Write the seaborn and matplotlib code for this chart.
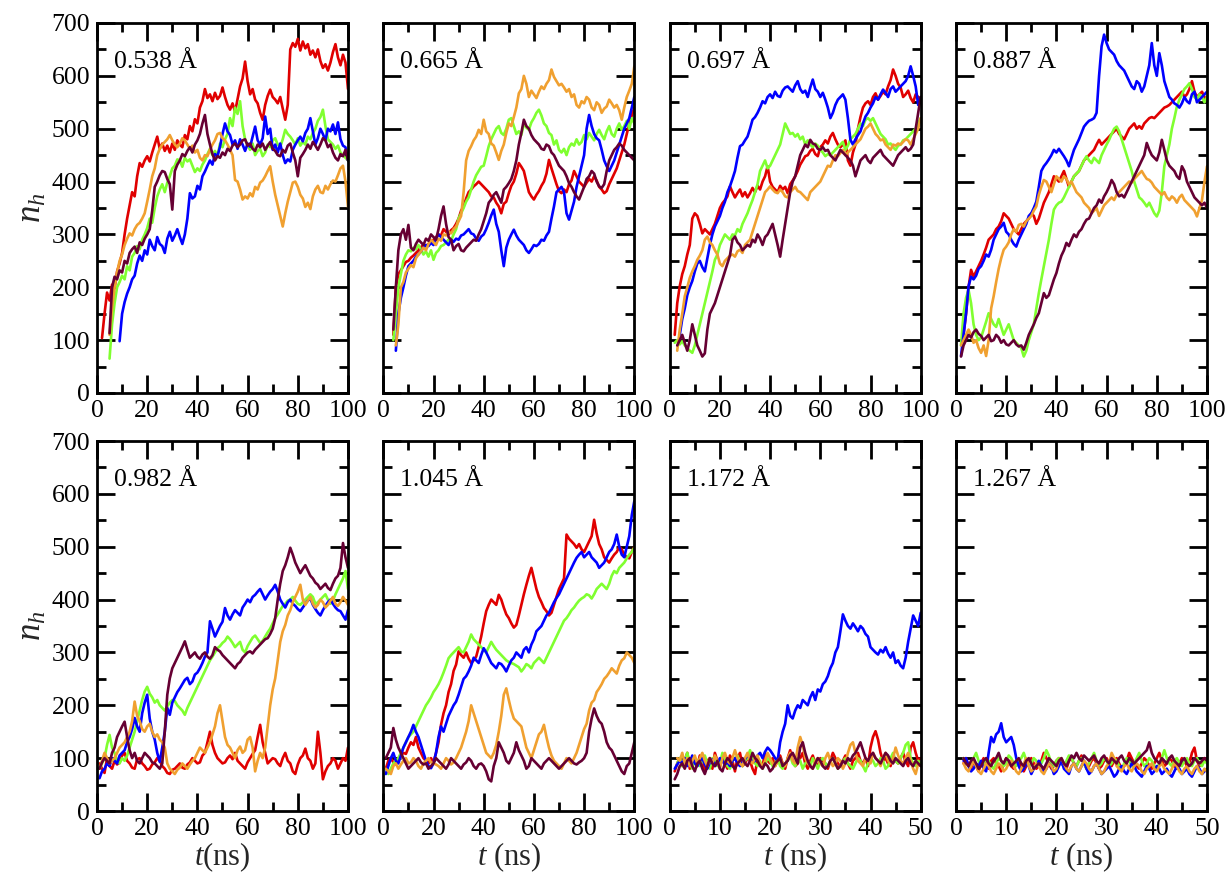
import numpy as np
import pandas as pd
import matplotlib
matplotlib.use("Agg")
import matplotlib.pyplot as plt
import seaborn as sns
from matplotlib.ticker import MultipleLocator

# ---------------- data ----------------
panel_labels = ["0.538 Å", "0.665 Å", "0.697 Å", "0.887 Å",
                "0.982 Å", "1.045 Å", "1.172 Å", "1.267 Å"]
runs = ["red", "green", "blue", "orange", "maroon"]
run_colors = ["#e00000", "#80ff30", "#0000ff", "#f0a030", "#660033"]
panel_tmax = [100, 100, 100, 100, 100, 100, 50, 50]
panel_step = [1, 1, 1, 1, 1, 1, 0.5, 0.5]

# start times (ns) of each trace: [red, green, blue, orange, maroon]
starts_p1 = [2, 5, 9, 5, 5]
starts_p2 = [4, 4, 5, 5, 4]
starts_p3 = [2, 2, 4, 3, 3]
starts_p4 = [3, 2, 2, 2, 2]
starts_p5 = [1, 1, 1, 1, 1]
starts_p6 = [1, 2, 1, 1, 1]
starts_p7 = [1, 1.5, 1, 1.5, 1]
starts_p8 = [1.5, 1.5, 1.5, 1.5, 1.5]

# ---- panel 1 : 0.538 A ----
p1_red = [104, 150, 190, 175, 205, 198, 230, 245, 265, 300,
          330, 355, 380, 372, 410, 435, 428, 440, 448, 438,
          455, 470, 485, 462, 472, 458, 468, 455, 472, 460,
          478, 470, 465, 488, 480, 505, 495, 518, 510, 540,
          552, 575, 558, 565, 552, 568, 556, 562, 578, 560,
          545, 536, 548, 532, 556, 580, 595, 627, 590, 565,
          575, 555, 548, 530, 517, 545, 562, 574, 560, 555,
          548, 560, 538, 517, 545, 650, 662, 655, 670, 648,
          665, 652, 660, 640, 648, 635, 650, 628, 615, 622,
          610, 625, 645, 660, 635, 620, 640, 625, 575]
p1_green = [65, 130, 170, 200, 210, 222, 215, 240, 232, 258,
            265, 278, 272, 290, 300, 312, 330, 322, 350, 372,
            385, 395, 380, 398, 410, 425, 430, 442, 440, 428,
            445, 438, 442, 430, 418, 425, 420, 432, 440, 452,
            462, 450, 458, 448, 472, 465, 480, 490, 520, 505,
            540, 528, 552, 505, 480, 468, 460, 472, 450, 458,
            462, 448, 455, 470, 465, 478, 482, 470, 465, 480,
            498, 490, 485, 478, 470, 482, 468, 475, 470, 485,
            480, 492, 500, 515, 522, 536, 505, 480, 475, 470,
            462, 468, 455, 450, 445, 440]
p1_blue = [98, 150, 172, 188, 200, 215, 222, 245, 260, 250,
           270, 262, 290, 278, 270, 295, 282, 278, 265, 292,
           305, 288, 298, 310, 295, 282, 300, 330, 378, 368,
           372, 392, 385, 410, 419, 430, 440, 432, 452, 448,
           466, 490, 510, 495, 488, 470, 478, 462, 480, 470,
           458, 472, 466, 485, 504, 478, 470, 482, 523, 490,
           500, 460, 470, 455, 472, 450, 435, 442, 438, 460,
           470, 478, 485, 476, 492, 500, 520, 495, 470, 482,
           500, 490, 478, 500, 495, 508, 490, 512, 480, 468,
           465, 440]
p1_orange = [110, 160, 200, 228, 250, 262, 280, 292, 302, 298,
             310, 318, 322, 330, 340, 362, 385, 410, 425, 450,
             462, 470, 475, 480, 488, 478, 470, 465, 472, 482,
             478, 470, 462, 468, 455, 460, 445, 440, 450, 448,
             460, 470, 478, 490, 492, 482, 478, 470, 460, 450,
             403, 400, 385, 366, 372, 368, 378, 372, 390, 385,
             398, 402, 410, 420, 429, 400, 375, 355, 335, 315,
             340, 362, 380, 398, 400, 390, 375, 368, 352, 360,
             348, 372, 385, 392, 380, 378, 392, 385, 395, 402,
             400, 412, 425, 430, 400, 352]
p1_maroon = [113, 200, 220, 215, 232, 228, 250, 245, 265, 272,
             277, 265, 285, 280, 292, 300, 310, 345, 390, 400,
             412, 420, 418, 405, 395, 347, 420, 432, 440, 452,
             448, 458, 465, 455, 470, 478, 490, 510, 526, 490,
             470, 452, 440, 448, 445, 455, 450, 462, 458, 468,
             472, 465, 470, 478, 480, 468, 472, 462, 458, 470,
             465, 472, 460, 468, 475, 462, 458, 450, 448, 460,
             455, 468, 472, 455, 440, 410, 445, 452, 460, 470,
             462, 475, 468, 460, 470, 482, 478, 465, 470, 455,
             445, 440, 452, 448, 460, 440]

# ---- panel 2 : 0.665 A ----
p2_red = [110, 200, 225, 232, 240, 248, 250, 256, 260, 265,
          270, 276, 280, 278, 282, 285, 290, 295, 300, 298,
          310, 305, 300, 308, 312, 320, 330, 345, 353, 368,
          380, 385, 391, 395, 400, 395, 390, 385, 380, 372,
          370, 360, 353, 340, 358, 362, 378, 392, 400, 415,
          435, 428, 420, 400, 380, 372, 366, 375, 382, 392,
          400, 415, 441, 425, 410, 395, 382, 378, 385, 380,
          395, 402, 420, 410, 400, 395, 390, 398, 405, 400,
          410, 402, 390, 385, 378, 382, 395, 405, 415, 425,
          440, 455, 470, 490, 510, 525, 540]
p2_green = [100, 150, 200, 225, 250, 262, 270, 268, 275, 272,
            280, 272, 262, 268, 258, 270, 252, 265, 270, 278,
            280, 285, 290, 288, 300, 310, 330, 340, 350, 362,
            370, 385, 400, 412, 420, 428, 430, 448, 467, 480,
            490, 500, 505, 492, 488, 500, 517, 520, 505, 490,
            495, 488, 510, 502, 498, 512, 520, 530, 536, 525,
            510, 505, 492, 488, 470, 478, 460, 455, 462, 450,
            465, 472, 468, 480, 470, 475, 488, 480, 492, 485,
            478, 490, 498, 488, 480, 495, 505, 490, 485, 500,
            510, 498, 505, 515, 500, 520, 510]
p2_blue = [80, 150, 180, 200, 222, 240, 245, 250, 258, 262,
           268, 275, 280, 278, 284, 280, 292, 300, 295, 290,
           285, 280, 290, 286, 292, 290, 298, 300, 305, 310,
           302, 300, 292, 288, 296, 300, 310, 322, 336, 347,
           320, 305, 270, 240, 275, 290, 300, 309, 298, 290,
           285, 280, 270, 265, 272, 280, 278, 282, 290, 288,
           298, 305, 330, 353, 380, 385, 390, 380, 340, 328,
           345, 362, 390, 410, 430, 450, 500, 526, 505, 490,
           482, 478, 460, 440, 429, 420, 430, 440, 455, 470,
           485, 500, 510, 520, 540, 560]
p2_orange = [90, 130, 200, 210, 228, 235, 242, 238, 255, 262,
             268, 275, 270, 282, 290, 285, 280, 292, 288, 300,
             298, 305, 302, 310, 315, 325, 335, 380, 440, 458,
             467, 478, 485, 498, 490, 517, 495, 490, 472, 468,
             455, 441, 458, 470, 492, 510, 505, 522, 540, 567,
             575, 600, 585, 560, 572, 565, 558, 570, 580, 575,
             585, 592, 612, 598, 590, 582, 585, 578, 570, 575,
             560, 565, 545, 540, 552, 548, 560, 555, 540, 535,
             550, 545, 530, 538, 542, 555, 548, 540, 545, 535,
             517, 540, 560, 572, 585, 618]
p2_maroon = [120, 200, 270, 300, 310, 290, 318, 275, 270, 282,
             290, 285, 280, 292, 288, 300, 295, 290, 310, 335,
             353, 320, 295, 290, 270, 278, 282, 270, 268, 275,
             280, 285, 290, 288, 300, 310, 325, 340, 360, 366,
             375, 380, 370, 360, 385, 390, 397, 405, 420, 440,
             470, 492, 517, 505, 500, 488, 480, 475, 470, 462,
             460, 470, 467, 455, 450, 440, 430, 425, 420, 410,
             397, 390, 380, 372, 366, 378, 390, 405, 410, 420,
             415, 400, 391, 388, 395, 420, 440, 450, 460, 465,
             472, 468, 460, 455, 450, 445, 440]

# ---- panel 3 : 0.697 A ----
p3_red = [110, 170, 202, 225, 240, 262, 280, 330, 340, 335,
          320, 302, 310, 305, 300, 310, 320, 335, 350, 359,
          365, 372, 391, 380, 370, 378, 385, 372, 380, 370,
          378, 388, 380, 392, 385, 400, 410, 429, 400, 390,
          385, 380, 392, 385, 390, 378, 395, 402, 410, 420,
          432, 440, 448, 450, 458, 462, 452, 448, 465, 470,
          478, 472, 485, 492, 480, 470, 465, 470, 478, 440,
          430, 455, 470, 500, 522, 540, 548, 552, 545, 560,
          567, 555, 562, 570, 565, 580, 592, 612, 600, 585,
          578, 560, 565, 572, 558, 550, 565, 560, 555]
p3_green = [95, 100, 92, 98, 90, 85, 80, 76, 90, 110,
            130, 150, 170, 190, 210, 230, 252, 262, 280, 290,
            300, 295, 290, 300, 298, 310, 305, 320, 330, 340,
            353, 365, 380, 395, 420, 430, 440, 425, 430, 440,
            450, 460, 470, 490, 510, 500, 490, 492, 485, 490,
            480, 485, 470, 478, 470, 465, 472, 468, 460, 455,
            448, 452, 450, 455, 460, 465, 470, 475, 460, 468,
            480, 485, 490, 500, 510, 505, 517, 520, 515, 520,
            510, 500, 490, 485, 480, 470, 472, 465, 460, 468,
            470, 478, 480, 485, 490, 495, 500, 510, 520]
p3_blue = [110, 140, 160, 185, 200, 212, 230, 245, 250, 238,
           230, 255, 280, 300, 315, 325, 335, 350, 362, 380,
           391, 405, 420, 445, 467, 470, 478, 485, 500, 517,
           522, 530, 540, 552, 548, 560, 565, 558, 570, 562,
           560, 572, 578, 580, 575, 570, 582, 590, 575, 568,
           572, 560, 578, 593, 575, 570, 560, 568, 555, 540,
           520, 530, 545, 555, 560, 565, 555, 520, 479, 470,
           480, 488, 495, 510, 523, 530, 540, 548, 560, 555,
           565, 574, 568, 560, 575, 580, 570, 575, 580, 585,
           590, 600, 618, 600, 580, 545, 560]
p3_orange = [80, 120, 150, 183, 200, 218, 230, 240, 252, 260,
             270, 290, 296, 285, 280, 270, 262, 245, 240, 250,
             255, 260, 262, 258, 268, 271, 265, 280, 285, 290,
             305, 320, 335, 350, 365, 380, 385, 391, 385, 380,
             378, 385, 380, 372, 370, 380, 385, 390, 382, 380,
             375, 370, 365, 380, 385, 390, 395, 400, 410, 420,
             430, 428, 440, 450, 448, 454, 460, 450, 455, 460,
             465, 470, 475, 480, 490, 500, 504, 510, 500, 490,
             485, 478, 480, 470, 465, 460, 470, 468, 472, 470,
             475, 480, 478, 470, 480, 490, 500, 520]
p3_maroon = [90, 100, 110, 95, 80, 100, 130, 110, 90, 80,
             69, 75, 120, 150, 160, 170, 185, 200, 215, 230,
             245, 260, 290, 296, 285, 280, 270, 275, 280, 277,
             290, 285, 300, 292, 280, 295, 300, 310, 320, 300,
             280, 258, 290, 320, 350, 380, 400, 410, 430, 450,
             460, 470, 465, 479, 472, 470, 462, 460, 465, 458,
             460, 450, 445, 440, 450, 460, 455, 450, 445, 440,
             430, 410, 425, 440, 445, 450, 440, 435, 445, 450,
             455, 460, 450, 445, 440, 435, 430, 440, 450, 455,
             460, 465, 458, 462, 470, 500, 530, 560]

# ---- panel 4 : 0.887 A ----
p4_red = [110, 150, 200, 233, 220, 230, 240, 250, 262, 275,
          290, 295, 300, 310, 315, 325, 340, 335, 330, 320,
          310, 305, 300, 310, 320, 325, 330, 340, 335, 320,
          330, 345, 360, 370, 380, 395, 410, 405, 400, 410,
          420, 405, 390, 400, 410, 415, 420, 430, 440, 445,
          450, 455, 460, 470, 479, 470, 475, 480, 485, 490,
          495, 500, 490, 485, 480, 490, 500, 505, 510, 500,
          505, 500, 510, 515, 520, 522, 520, 525, 530, 535,
          540, 542, 545, 550, 555, 560, 565, 570, 560, 565,
          575, 590, 570, 560, 565, 570, 560, 555]
p4_green = [90, 150, 180, 195, 170, 130, 110, 100, 105, 120,
            135, 151, 140, 130, 125, 140, 125, 110, 120, 130,
            115, 100, 95, 90, 85, 69, 80, 100, 115, 130,
            160, 189, 215, 240, 265, 290, 320, 347, 355, 360,
            362, 370, 380, 390, 400, 410, 415, 420, 430, 440,
            448, 440, 435, 445, 440, 435, 450, 460, 470, 479,
            490, 500, 504, 495, 480, 465, 450, 435, 420, 400,
            385, 370, 366, 360, 353, 360, 350, 340, 334, 345,
            380, 429, 450, 470, 500, 520, 542, 555, 565, 575,
            580, 586, 575, 560, 555, 565, 560, 550, 560]
p4_blue = [70, 110, 150, 202, 220, 215, 222, 235, 240, 250,
           262, 258, 271, 290, 300, 310, 315, 322, 305, 300,
           290, 282, 277, 290, 300, 310, 320, 335, 340, 350,
           362, 390, 420, 429, 435, 442, 450, 460, 455, 462,
           455, 448, 440, 429, 445, 460, 470, 480, 492, 504,
           510, 515, 517, 520, 530, 600, 656, 678, 662, 650,
           645, 640, 628, 620, 615, 610, 600, 590, 580, 575,
           590, 585, 570, 580, 600, 620, 662, 620, 600, 643,
           620, 590, 575, 560, 555, 548, 545, 540, 548, 560,
           552, 548, 565, 570, 550, 555, 560, 565, 570]
p4_orange = [90, 100, 110, 120, 110, 95, 100, 85, 76, 90,
             70, 100, 160, 183, 210, 235, 255, 271, 277, 285,
             300, 310, 305, 318, 320, 315, 325, 330, 335, 345,
             353, 375, 390, 403, 400, 390, 380, 395, 410, 405,
             400, 410, 405, 395, 400, 390, 380, 375, 370, 360,
             355, 350, 340, 345, 350, 335, 345, 355, 360, 365,
             370, 365, 375, 380, 385, 390, 395, 400, 398, 405,
             410, 415, 420, 412, 405, 403, 398, 390, 385, 380,
             375, 380, 370, 365, 372, 368, 360, 370, 375, 365,
             360, 355, 350, 345, 334, 350, 365, 400, 429]
p4_maroon = [69, 90, 100, 110, 105, 115, 120, 112, 108, 100,
             105, 110, 98, 100, 110, 105, 95, 100, 92, 90,
             95, 100, 92, 88, 90, 82, 95, 110, 120, 130,
             142, 151, 170, 189, 180, 185, 200, 215, 227, 245,
             260, 270, 284, 278, 290, 300, 295, 305, 310, 320,
             328, 330, 340, 350, 355, 366, 360, 372, 380, 390,
             403, 395, 380, 372, 375, 370, 380, 390, 400, 410,
             420, 430, 440, 450, 473, 460, 450, 445, 440, 455,
             479, 460, 440, 430, 425, 420, 410, 405, 429, 420,
             400, 390, 380, 370, 365, 360, 355, 360, 350]

# ---- panel 5 : 0.982 A ----
p5_red = [90, 80, 72, 100, 85, 80, 95, 88, 92, 105,
          110, 95, 90, 82, 80, 98, 100, 90, 85, 78,
          80, 88, 92, 100, 95, 85, 80, 72, 70, 78,
          80, 85, 90, 82, 80, 88, 92, 100, 95, 90,
          92, 105, 110, 130, 150, 125, 110, 100, 95, 90,
          92, 100, 105, 98, 110, 95, 90, 85, 80, 92,
          100, 108, 115, 140, 163, 130, 110, 90, 95, 100,
          98, 90, 85, 100, 110, 95, 90, 75, 70, 88,
          100, 105, 118, 100, 95, 80, 90, 150, 110, 60,
          75, 85, 90, 100, 95, 80, 90, 100, 95, 120]
p5_green = [80, 90, 100, 125, 144, 120, 110, 95, 90, 100,
            95, 105, 120, 135, 150, 170, 190, 210, 226, 235,
            222, 215, 205, 210, 200, 195, 190, 198, 205, 210,
            208, 200, 195, 190, 182, 195, 205, 215, 225, 235,
            245, 255, 265, 275, 285, 292, 300, 308, 312, 318,
            322, 330, 325, 318, 310, 315, 320, 305, 300, 312,
            320, 328, 332, 325, 318, 322, 330, 338, 345, 355,
            365, 372, 380, 388, 392, 398, 400, 405, 398, 392,
            390, 395, 400, 405, 410, 405, 392, 395, 400, 405,
            410, 400, 392, 398, 410, 420, 430, 440, 454, 420]
p5_blue = [62, 75, 80, 90, 85, 100, 95, 90, 105, 110,
           115, 130, 140, 155, 176, 160, 150, 185, 205, 220,
           175, 150, 135, 110, 93, 120, 150, 195, 182, 205,
           215, 225, 232, 240, 248, 252, 240, 245, 258, 262,
           270, 280, 292, 300, 359, 345, 330, 340, 350, 358,
           384, 370, 362, 372, 380, 375, 370, 385, 392, 400,
           395, 405, 409, 415, 420, 410, 400, 408, 415, 420,
           428, 415, 400, 392, 385, 395, 400, 392, 388, 382,
           378, 385, 392, 398, 402, 390, 382, 375, 370, 380,
           388, 395, 400, 392, 385, 380, 378, 370, 362, 380]
p5_orange = [80, 95, 110, 100, 90, 95, 100, 110, 120, 125,
             130, 140, 150, 170, 207, 180, 170, 155, 150, 160,
             165, 150, 140, 145, 135, 130, 120, 90, 80, 75,
             70, 78, 82, 90, 85, 80, 88, 95, 100, 110,
             120, 115, 110, 120, 130, 145, 160, 185, 200, 170,
             140, 125, 120, 110, 100, 115, 122, 110, 115, 135,
             140, 120, 75, 95, 110, 100, 120, 160, 200, 230,
             251, 285, 320, 340, 352, 370, 380, 395, 405, 415,
             428, 400, 390, 398, 405, 392, 385, 390, 400, 395,
             385, 390, 398, 405, 392, 388, 395, 405, 398, 390]
p5_maroon = [80, 92, 100, 95, 90, 110, 120, 140, 150, 160,
             169, 140, 115, 100, 110, 95, 90, 100, 110, 105,
             100, 92, 90, 85, 80, 90, 150, 220, 251, 270,
             280, 290, 300, 310, 321, 305, 290, 295, 300, 292,
             288, 296, 300, 292, 288, 295, 310, 305, 302, 295,
             290, 285, 280, 275, 270, 278, 282, 290, 295, 300,
             302, 298, 305, 310, 315, 320, 325, 327, 335, 345,
             365, 400, 430, 454, 465, 480, 498, 485, 470, 460,
             450, 458, 465, 455, 445, 440, 432, 428, 420, 425,
             430, 422, 418, 430, 440, 445, 460, 507, 480, 460]

# ---- panel 6 : 1.045 A ----
p6_red = [80, 95, 100, 92, 88, 100, 105, 110, 108, 120,
          130, 125, 140, 120, 110, 100, 95, 90, 100, 92,
          110, 130, 163, 185, 200, 225, 240, 265, 277, 302,
          295, 290, 300, 288, 280, 285, 292, 310, 330, 355,
          378, 390, 400, 395, 390, 409, 400, 385, 372, 365,
          355, 347, 352, 370, 390, 410, 428, 445, 460, 440,
          420, 405, 395, 384, 378, 370, 375, 390, 405, 420,
          430, 440, 523, 515, 510, 505, 498, 505, 495, 490,
          500, 510, 520, 551, 525, 505, 495, 480, 475, 470,
          478, 485, 490, 500, 495, 485, 480, 478, 490, 500]
p6_green = [70, 80, 90, 95, 100, 110, 120, 130, 140, 145,
            150, 160, 170, 180, 190, 200, 207, 215, 225, 232,
            240, 250, 262, 275, 289, 295, 300, 305, 310, 302,
            300, 310, 320, 334, 325, 320, 315, 310, 305, 300,
            310, 320, 312, 305, 300, 295, 290, 285, 282, 280,
            278, 275, 272, 264, 270, 278, 275, 270, 280, 285,
            290, 285, 280, 290, 300, 310, 320, 330, 340, 350,
            360, 365, 372, 380, 385, 392, 398, 402, 405, 410,
            408, 402, 410, 420, 425, 430, 425, 420, 430, 445,
            454, 450, 460, 465, 470, 478, 485, 490, 498]
p6_blue = [70, 85, 100, 110, 95, 90, 105, 120, 130, 140,
           150, 163, 150, 140, 125, 110, 95, 85, 81, 90,
           110, 140, 160, 150, 165, 180, 190, 200, 207, 220,
           235, 250, 255, 264, 275, 290, 285, 280, 295, 308,
           300, 290, 280, 275, 270, 280, 278, 272, 264, 275,
           285, 290, 300, 295, 290, 305, 310, 300, 315, 325,
           340, 345, 350, 360, 370, 375, 385, 395, 403, 410,
           420, 430, 440, 450, 460, 470, 479, 485, 490, 480,
           485, 490, 480, 475, 470, 460, 465, 470, 480, 490,
           495, 505, 523, 500, 485, 480, 500, 520, 560, 586]
p6_orange = [80, 75, 70, 85, 90, 80, 88, 95, 100, 90,
             92, 100, 95, 85, 80, 90, 95, 100, 92, 90,
             88, 85, 80, 90, 100, 95, 88, 92, 100, 110,
             120, 135, 150, 170, 200, 185, 170, 155, 140, 125,
             110, 105, 100, 110, 125, 150, 180, 220, 232, 210,
             190, 175, 170, 165, 160, 140, 120, 110, 100, 115,
             130, 145, 150, 163, 140, 120, 105, 95, 90, 85,
             80, 90, 100, 95, 90, 100, 110, 125, 140, 155,
             165, 190, 205, 210, 225, 232, 240, 250, 255, 262,
             270, 265, 260, 275, 285, 289, 300, 295, 290, 280]
p6_maroon = [100, 110, 120, 157, 135, 120, 110, 100, 90, 80,
             85, 90, 95, 100, 92, 88, 90, 80, 85, 90,
             100, 95, 90, 85, 80, 88, 100, 95, 90, 85,
             80, 88, 92, 100, 95, 85, 80, 88, 90, 85,
             75, 60, 56, 85, 100, 130, 120, 110, 95, 90,
             100, 110, 130, 115, 105, 95, 80, 85, 100, 95,
             90, 85, 80, 90, 95, 100, 95, 90, 85, 80,
             85, 90, 95, 100, 95, 90, 88, 92, 95, 100,
             110, 150, 175, 194, 180, 170, 165, 150, 130, 120,
             115, 105, 95, 85, 75, 70, 85, 90, 110, 130]

# ---- panel 7 : 1.172 A (0.5 ns sampling) ----
p7_red = [75, 90, 100, 85, 95, 110, 80, 90, 100, 85,
          105, 90, 75, 95, 100, 80, 110, 95, 85, 100,
          90, 80, 105, 95, 75, 100, 110, 85, 90, 100,
          95, 80, 70, 100, 90, 85, 110, 95, 90, 100,
          85, 95, 105, 90, 80, 100, 115, 95, 85, 90,
          100, 110, 90, 80, 95, 105, 90, 85, 100, 95,
          90, 80, 95, 110, 100, 90, 85, 95, 105, 90,
          80, 95, 100, 110, 95, 90, 100, 85, 120, 140,
          151, 135, 110, 95, 100, 90, 85, 105, 95, 90,
          100, 110, 95, 85, 120, 130, 110, 95, 100]
p7_green = [90, 100, 85, 95, 110, 90, 80, 100, 95, 85,
            95, 105, 90, 80, 100, 95, 85, 90, 110, 100,
            85, 80, 95, 100, 105, 90, 85, 95, 100, 115,
            100, 90, 85, 95, 80, 90, 100, 95, 85, 90,
            100, 85, 80, 90, 95, 105, 90, 85, 100, 95,
            80, 90, 95, 85, 100, 90, 80, 95, 100, 90,
            85, 95, 100, 90, 80, 85, 95, 100, 90, 85,
            80, 90, 100, 95, 85, 75, 90, 100, 95, 85,
            90, 100, 95, 80, 85, 100, 110, 95, 90, 100,
            110, 125, 130, 100, 90, 85, 95, 90]
p7_blue = [80, 88, 95, 90, 100, 85, 92, 105, 90, 85,
           95, 100, 88, 80, 92, 98, 85, 90, 100, 95,
           88, 92, 85, 95, 100, 90, 85, 92, 98, 105,
           100, 92, 95, 105, 110, 100, 112, 120, 115, 108,
           100, 95, 130, 150, 165, 200, 180, 175, 190, 200,
           195, 210, 205, 200, 215, 225, 210, 230, 226, 240,
           245, 255, 270, 280, 300, 310, 340, 372, 360, 350,
           345, 355, 348, 340, 350, 345, 335, 330, 310, 305,
           300, 296, 305, 300, 310, 298, 290, 300, 280, 285,
           275, 270, 290, 320, 345, 370, 360, 350, 375, 397]
p7_orange = [100, 95, 110, 90, 100, 85, 95, 105, 90, 100,
             110, 95, 85, 100, 90, 105, 95, 80, 100, 110,
             95, 90, 100, 115, 100, 90, 85, 100, 110, 95,
             90, 100, 105, 90, 85, 95, 110, 100, 90, 85,
             95, 100, 90, 85, 100, 110, 95, 90, 120, 140,
             125, 100, 90, 85, 80, 95, 100, 90, 85, 100,
             110, 95, 85, 90, 100, 95, 80, 90, 110, 125,
             130, 110, 95, 90, 85, 100, 95, 90, 110, 100,
             95, 85, 100, 110, 95, 90, 100, 120, 105, 95,
             90, 100, 110, 95, 80, 70, 90, 85]
p7_maroon = [60, 70, 85, 90, 80, 95, 100, 85, 75, 90,
             95, 80, 70, 85, 100, 90, 85, 95, 80, 75,
             90, 100, 95, 85, 80, 90, 95, 100, 90, 85,
             95, 110, 100, 95, 85, 80, 90, 85, 75, 80,
             90, 95, 100, 85, 90, 95, 105, 110, 100, 90,
             120, 130, 110, 95, 85, 80, 90, 100, 95, 85,
             80, 85, 95, 100, 90, 80, 85, 95, 90, 100,
             95, 105, 110, 120, 130, 115, 100, 95, 105, 110,
             100, 95, 90, 100, 110, 105, 95, 90, 100, 95,
             90, 85, 95, 100, 90, 85, 95, 90, 85]

# ---- panel 8 : 1.267 A (0.5 ns sampling) ----
p8_red = [90, 100, 85, 80, 95, 85, 75, 90, 100, 85,
          80, 95, 100, 90, 85, 75, 90, 100, 95, 85,
          80, 90, 95, 85, 75, 85, 95, 100, 90, 80,
          85, 95, 110, 100, 90, 80, 85, 95, 100, 90,
          85, 80, 95, 100, 90, 85, 95, 105, 90, 80,
          85, 95, 100, 90, 80, 85, 95, 100, 90, 85,
          95, 100, 90, 80, 85, 95, 110, 100, 90, 85,
          80, 90, 100, 95, 85, 80, 90, 100, 110, 95,
          85, 90, 100, 95, 85, 80, 90, 100, 95, 85,
          90, 110, 120, 95, 85, 90, 100, 95]
p8_green = [100, 95, 85, 90, 100, 110, 95, 85, 90, 100,
            95, 85, 80, 90, 100, 95, 85, 90, 105, 100,
            90, 85, 95, 100, 110, 95, 85, 90, 100, 95,
            85, 90, 100, 115, 105, 90, 85, 95, 100, 90,
            85, 95, 105, 100, 90, 85, 95, 100, 90, 80,
            90, 100, 110, 95, 85, 90, 100, 95, 85, 90,
            100, 95, 85, 80, 90, 100, 95, 85, 90, 100,
            110, 95, 85, 90, 100, 95, 85, 80, 90, 100,
            115, 100, 90, 85, 95, 100, 90, 85, 95, 100,
            90, 85, 95, 100, 90, 85, 95, 90]
p8_blue = [95, 100, 85, 75, 80, 90, 85, 95, 80, 75,
           110, 140, 130, 145, 150, 166, 140, 130, 135, 140,
           125, 100, 85, 75, 80, 90, 85, 70, 80, 85,
           95, 85, 75, 80, 90, 85, 70, 75, 85, 95,
           80, 75, 70, 85, 90, 80, 75, 85, 95, 80,
           70, 75, 85, 90, 80, 70, 75, 80, 85, 75,
           65, 70, 80, 85, 75, 70, 80, 90, 85, 75,
           70, 65, 75, 85, 80, 70, 75, 85, 80, 70,
           75, 80, 70, 65, 75, 85, 80, 70, 75, 80,
           70, 65, 75, 85, 80, 70, 75, 80]
p8_orange = [90, 80, 75, 85, 95, 85, 75, 70, 80, 90,
             85, 75, 70, 80, 90, 85, 75, 80, 90, 95,
             85, 75, 70, 80, 90, 100, 85, 75, 80, 90,
             85, 75, 70, 80, 90, 85, 75, 80, 95, 100,
             90, 80, 75, 85, 90, 80, 75, 85, 95, 90,
             80, 75, 85, 90, 80, 70, 75, 85, 90, 110,
             100, 85, 80, 75, 85, 90, 80, 75, 85, 90,
             85, 75, 70, 80, 85, 90, 80, 75, 85, 90,
             80, 75, 70, 80, 90, 85, 75, 70, 80, 85,
             75, 70, 80, 85, 75, 70, 80, 75]
p8_maroon = [100, 90, 85, 95, 100, 90, 80, 85, 95, 100,
             90, 85, 95, 100, 110, 95, 90, 100, 95, 85,
             90, 95, 100, 90, 85, 95, 100, 90, 80, 85,
             90, 85, 80, 90, 100, 95, 90, 85, 95, 100,
             90, 85, 95, 105, 100, 110, 100, 95, 105, 100,
             95, 100, 105, 95, 90, 100, 105, 95, 90, 100,
             95, 90, 100, 105, 95, 90, 100, 95, 90, 95,
             100, 105, 110, 115, 130, 110, 100, 95, 90, 100,
             95, 90, 100, 105, 95, 90, 85, 95, 100, 90,
             85, 90, 100, 95, 90, 95, 100, 95]

panels = [
    (starts_p1, [p1_red, p1_green, p1_blue, p1_orange, p1_maroon]),
    (starts_p2, [p2_red, p2_green, p2_blue, p2_orange, p2_maroon]),
    (starts_p3, [p3_red, p3_green, p3_blue, p3_orange, p3_maroon]),
    (starts_p4, [p4_red, p4_green, p4_blue, p4_orange, p4_maroon]),
    (starts_p5, [p5_red, p5_green, p5_blue, p5_orange, p5_maroon]),
    (starts_p6, [p6_red, p6_green, p6_blue, p6_orange, p6_maroon]),
    (starts_p7, [p7_red, p7_green, p7_blue, p7_orange, p7_maroon]),
    (starts_p8, [p8_red, p8_green, p8_blue, p8_orange, p8_maroon]),
]

# ---------------- style ----------------
sns.set_theme(style="ticks")
plt.rcParams["font.family"] = ["Liberation Serif", "DejaVu Serif"]
plt.rcParams["mathtext.fontset"] = "custom"
plt.rcParams["mathtext.rm"] = "Liberation Serif"
plt.rcParams["mathtext.it"] = "Liberation Serif:italic"
plt.rcParams["axes.linewidth"] = 2.0

W, H = 1227, 873
fig = plt.figure(figsize=(W / 100, H / 100), dpi=100)
fig.patch.set_facecolor("white")

col_left = [97, 383.3, 669.7, 956]
row_bottom = [480, 62]
aw, ah = 251, 370

palette = dict(zip(runs, run_colors))

for i, (starts, series) in enumerate(panels):
    r, c = divmod(i, 4)
    ax = fig.add_axes([col_left[c] / W, row_bottom[r] / H, aw / W, ah / H])
    step = panel_step[i]
    frames = []
    for name, t0, vals in zip(runs, starts, series):
        vals = np.asarray(vals, dtype=float)
        t = t0 + step * np.arange(len(vals))
        keep = t <= panel_tmax[i]
        frames.append(pd.DataFrame({"t": t[keep], "nh": vals[keep], "run": name}))
    df = pd.concat(frames, ignore_index=True)
    sns.lineplot(data=df, x="t", y="nh", hue="run", hue_order=runs,
                 palette=palette, estimator=None, sort=False, legend=False,
                 linewidth=1.9, ax=ax)

    tmax = panel_tmax[i]
    ax.set_xlim(0, tmax)
    ax.set_ylim(0, 700)
    if tmax == 100:
        ax.xaxis.set_major_locator(MultipleLocator(20))
        ax.xaxis.set_minor_locator(MultipleLocator(10))
    else:
        ax.xaxis.set_major_locator(MultipleLocator(10))
        ax.xaxis.set_minor_locator(MultipleLocator(5))
    ax.yaxis.set_major_locator(MultipleLocator(100))
    ax.yaxis.set_minor_locator(MultipleLocator(50))
    ax.tick_params(which="both", direction="in", top=True, right=True,
                   bottom=True, left=True, colors="black")
    ax.tick_params(which="major", length=13, width=2, labelsize=18.5, pad=5)
    ax.tick_params(which="minor", length=6.5, width=2)
    for sp in ax.spines.values():
        sp.set_linewidth(2)
        sp.set_color("black")
    ax.set_facecolor("white")

    if c == 0:
        ax.set_ylabel("$n_h$", fontsize=25, labelpad=2)
    else:
        ax.set_ylabel("")
        ax.tick_params(labelleft=False)
    if r == 1:
        ax.set_xlabel("$t$(ns)" if c == 0 else "$t$ (ns)", fontsize=22, labelpad=0)
    else:
        ax.set_xlabel("")

    ax.text(0.068, 0.878, panel_labels[i], transform=ax.transAxes,
            fontsize=18.5, ha="left", va="baseline", color="black")

fig.savefig("out.png", dpi=100, facecolor="white")
